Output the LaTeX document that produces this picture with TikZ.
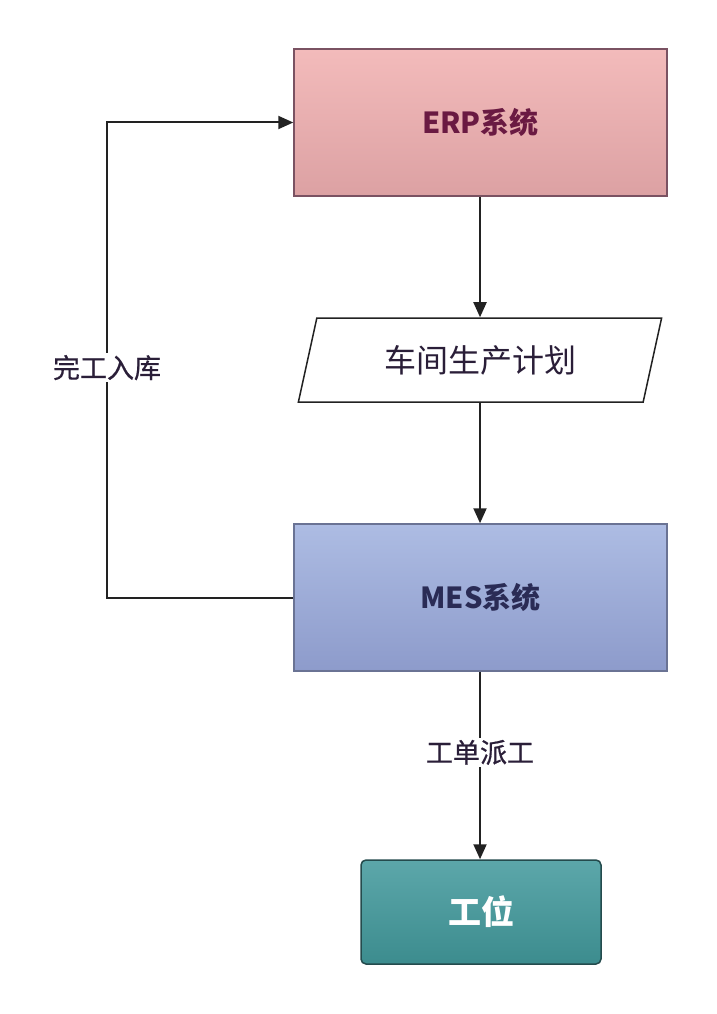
\documentclass[tikz,border=0pt]{standalone}
\usepackage{fontspec}
\setmainfont{Noto Sans CJK SC}
\newfontfamily\medfont[FakeBold=0.6]{Noto Sans CJK SC}
\usetikzlibrary{arrows.meta,shapes.geometric}
\definecolor{erptop}{HTML}{F3BBBB}
\definecolor{erpbot}{HTML}{DCA1A3}
\definecolor{erpline}{HTML}{7A5262}
\definecolor{erptext}{HTML}{6A1A42}
\definecolor{mestop}{HTML}{ADBCE3}
\definecolor{mesbot}{HTML}{8D9BCB}
\definecolor{mesline}{HTML}{6A7394}
\definecolor{mestext}{HTML}{2A2B55}
\definecolor{gwtop}{HTML}{5CA7AA}
\definecolor{gwbot}{HTML}{3C8C8E}
\definecolor{gwline}{HTML}{244B4D}
\definecolor{plantext}{HTML}{2A1E38}
\definecolor{conn}{HTML}{222222}
\tikzset{
  sysbox/.style={draw, line width=1.5pt, minimum width=373pt, minimum height=147pt, inner sep=0pt, font=\fontsize{29}{34}\selectfont\bfseries},
  conline/.style={draw=conn, line width=2pt},
  arr/.style={conline, -{Triangle[length=15pt,width=13pt]}},
  lab/.style={fill=white, inner sep=2pt, text=plantext, font=\medfont\fontsize{27}{32}\selectfont}
}
\begin{document}
\begin{tikzpicture}[x=1pt,y=-1pt]
\useasboundingbox[fill=white] (0,0) rectangle (716,1014);
\node[sysbox, draw=erpline, top color=erptop, bottom color=erpbot, text=erptext] (erp) at (480.5,122.5) {ERP系统};
\node[sysbox, draw=mesline, top color=mestop, bottom color=mesbot, text=mestext] (mes) at (480.5,597.5) {MES系统};
\node[draw=conn, line width=1.5pt, fill=white, trapezium, trapezium left angle=70, trapezium right angle=110, minimum height=84pt, trapezium stretches=true, minimum width=364pt, inner sep=0pt, text=plantext, font=\fontsize{32}{36}\selectfont] (plan) at (480,360) {车间生产计划};
\node[draw=gwline, line width=1.5pt, rounded corners=5pt, top color=gwtop, bottom color=gwbot, minimum width=240pt, minimum height=104pt, inner sep=0pt, text=white, font=\fontsize{33}{36}\selectfont\bfseries] (gw) at (481,912) {工位};
\coordinate (c1) at (107,597.5);
\coordinate (c2) at (107,122.5);
\draw[arr] (erp.south -| plan.north) -- (plan.north);
\draw[arr] (plan.south) -- (plan.south |- mes.north);
\draw[arr] (mes.south -| plan.north) -- node[lab, pos=0.43] {工单派工} (gw.north -| plan.north);
\draw[arr] (mes.west) -- (c1) -- node[lab, pos=0.484] {完工入库} (c2) -- (erp.west);
\end{tikzpicture}
\end{document}
